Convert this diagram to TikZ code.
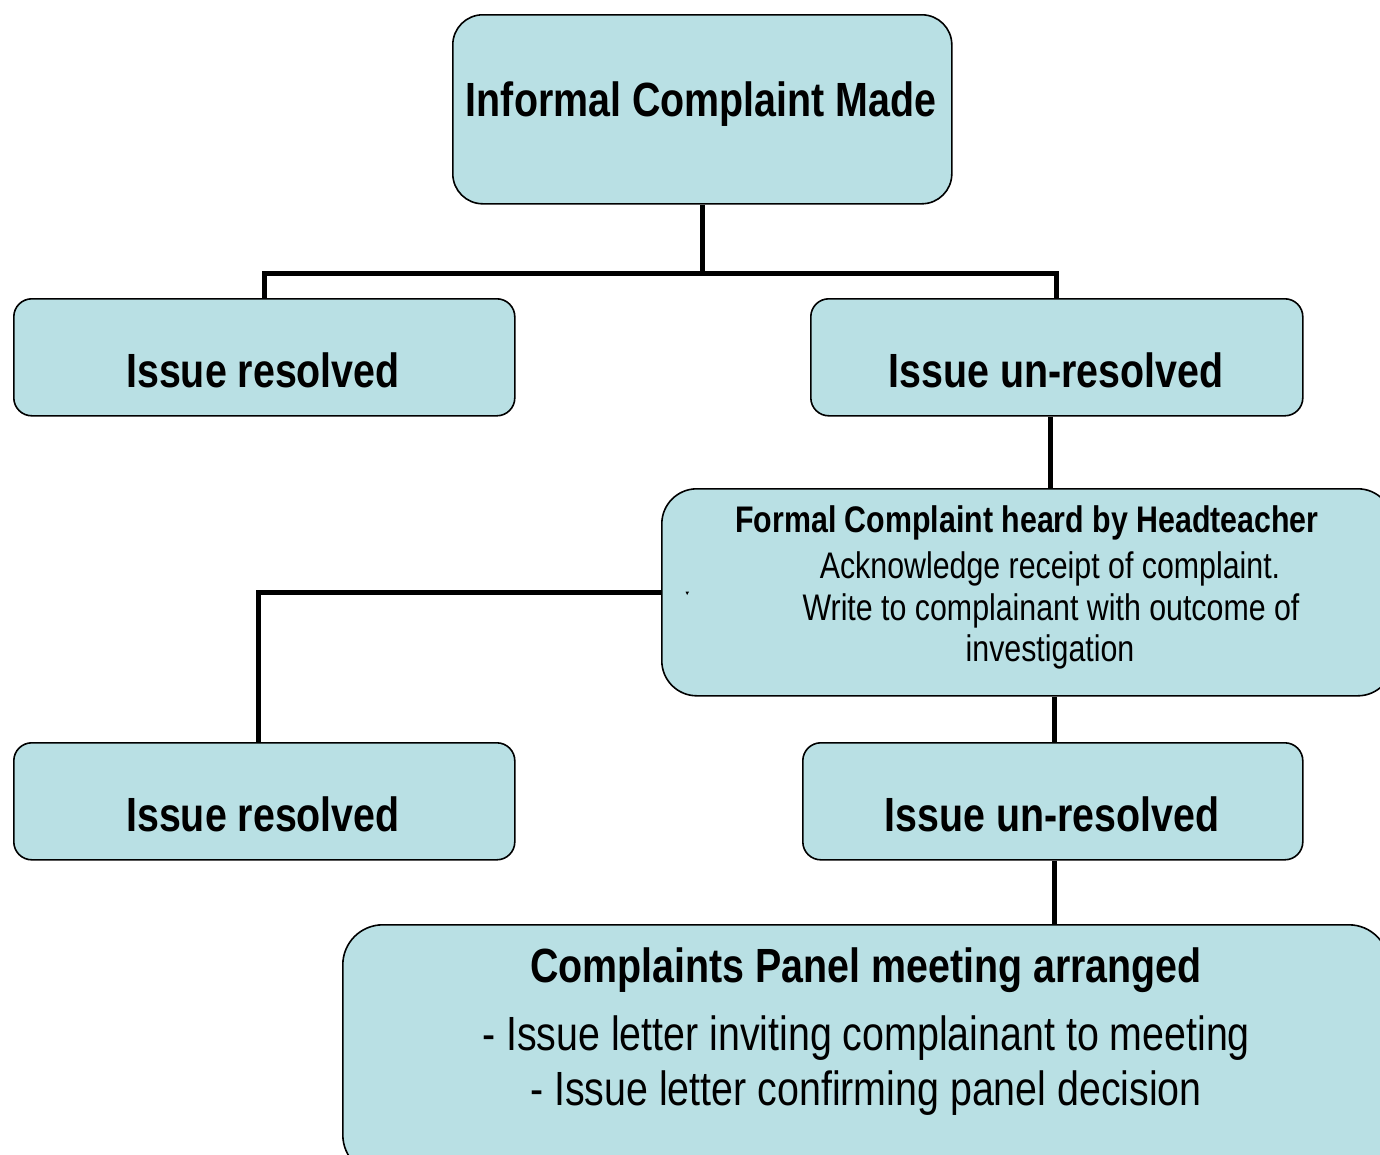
\documentclass[tikz,border=0pt]{standalone}
\usepackage{fontspec}
\setmainfont{Liberation Sans}[FakeStretch=0.82]
\definecolor{boxfill}{HTML}{B9E0E4}
\begin{document}
\begin{tikzpicture}[x=1pt,y=-1pt,
  box/.style={draw=black, line width=1.6pt, fill=boxfill, inner sep=0pt, anchor=north west},
  conn/.style={draw=black, line width=5pt, line join=miter},
  lbl/.style={anchor=base, inner sep=0pt, text=black}]
\useasboundingbox (0,0) rectangle (1380,1154);
\clip (0,0) rectangle (1380,1154);
% boxes
\node[box, rounded corners=30pt, minimum width=499pt, minimum height=189pt] (top) at (452,14) {};
\node[box, rounded corners=18pt, minimum width=501pt, minimum height=117pt] (res1) at (13,298) {};
\node[box, rounded corners=18pt, minimum width=492pt, minimum height=117pt] (unres1) at (810,298) {};
\node[box, rounded corners=35pt, minimum width=731pt, minimum height=207pt] (formal) at (661,488) {};
\node[box, rounded corners=18pt, minimum width=501pt, minimum height=117pt] (res2) at (13,742) {};
\node[box, rounded corners=18pt, minimum width=500pt, minimum height=117pt] (unres2) at (802,742) {};
\node[box, rounded corners=40pt, minimum width=1046pt, minimum height=250pt] (panel) at (342,924) {};
% connectors
\coordinate (j1) at (top.south |- 0,273);
\draw[conn] (top.south) -- (j1);
\draw[conn] (res1.north) |- (j1) -| (unres1.north);
\draw[conn] (1050,0 |- unres1.south) -- (1050,0 |- formal.north);
\draw[conn] (formal.west) -| (258,0 |- res2.north);
\draw[conn] (1054,0 |- formal.south) -- (1054,0 |- unres2.north);
\draw[conn] (1054,0 |- unres2.south) -- (1054,0 |- panel.north);
% texts
\node[lbl, font=\bfseries\fontsize{48}{56}\selectfont] (t1) at (701,116) {Informal Complaint Made};
\node[lbl, font=\bfseries\fontsize{48}{56}\selectfont] (t2) at (263,387) {Issue resolved};
\node[lbl, font=\bfseries\fontsize{48}{56}\selectfont] (t3) at (1056,387) {Issue un-resolved};
\node[lbl, font=\bfseries\fontsize{37}{44}\selectfont] (t4) at (1027,532) {Formal Complaint heard by Headteacher};
\node[lbl, font=\fontsize{37}{44}\selectfont] (t5) at (1050,578) {Acknowledge receipt of complaint.};
\node[lbl, font=\fontsize{37}{44}\selectfont] (t6) at (1051,620) {Write to complainant with outcome of};
\node[lbl, font=\fontsize{37}{44}\selectfont] (t7) at (1050,661) {investigation};
\fill[black] (685.5,591.5) -- (689,591.5) -- (687.2,595) -- cycle;
\node[lbl, font=\bfseries\fontsize{48}{56}\selectfont] (t8) at (263,831) {Issue resolved};
\node[lbl, font=\bfseries\fontsize{48}{56}\selectfont] (t9) at (1052,831) {Issue un-resolved};
\node[lbl, font=\bfseries\fontsize{48}{56}\selectfont] (t10) at (866,982) {Complaints Panel meeting arranged};
\node[lbl, font=\fontsize{48}{56}\selectfont] (t11) at (866,1050) {- Issue letter inviting complainant to meeting};
\node[lbl, font=\fontsize{48}{56}\selectfont] (t12) at (866,1105) {- Issue letter confirming panel decision};
\end{tikzpicture}
\end{document}
